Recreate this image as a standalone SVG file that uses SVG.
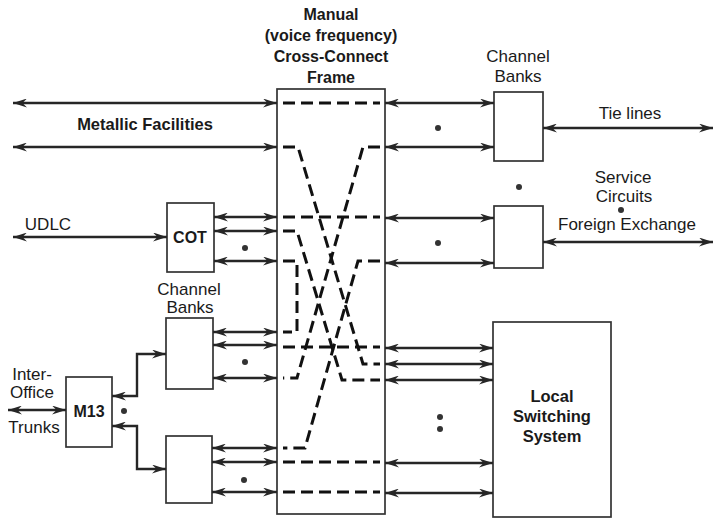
<svg xmlns="http://www.w3.org/2000/svg" width="716" height="519" viewBox="0 0 716 519">
<defs>
<marker id="ah" viewBox="0 0 14 9" refX="14" refY="4.5" markerWidth="14" markerHeight="9" markerUnits="userSpaceOnUse" orient="auto-start-reverse">
<path d="M0,0 L14,4.5 L0,9 L4.5,4.5 Z" fill="#262626"/>
</marker>
<style>
.box{fill:#fff;stroke:#333;stroke-width:1.7}
.arr{fill:none;stroke:#262626;stroke-width:2.4;marker-start:url(#ah);marker-end:url(#ah)}
.dsh{fill:none;stroke:#111;stroke-width:3;stroke-dasharray:12 6}
.t{font-family:"Liberation Sans",Arial,sans-serif;fill:#1a1a1a;text-anchor:middle;font-size:17px}
.b{font-weight:bold;font-size:16px}
.dot{fill:#333}
</style>
</defs>
<rect width="716" height="519" fill="#fff"/>

<g id="frame">
<rect class="box" x="277" y="89" width="108" height="425"/>
<text class="t b" x="331" y="20">Manual</text>
<text class="t b" x="331" y="41">(voice frequency)</text>
<text class="t b" x="331" y="62">Cross-Connect</text>
<text class="t b" x="331" y="83">Frame</text>
</g>

<g id="cb-right-1">
<rect class="box" x="494" y="92" width="49" height="69"/>
<text class="t" x="518" y="62">Channel</text>
<text class="t" x="518" y="82">Banks</text>
</g>
<g id="cb-right-2">
<rect class="box" x="494" y="206" width="49" height="62"/>
</g>
<g id="lss">
<rect class="box" x="493" y="322" width="118" height="195"/>
<text class="t b" x="552" y="402" style="font-size:16.5px">Local</text>
<text class="t b" x="552" y="422" style="font-size:16.5px">Switching</text>
<text class="t b" x="552" y="442" style="font-size:16.5px">System</text>
</g>
<g id="cot">
<rect class="box" x="167" y="203" width="47" height="69"/>
<text class="t b" x="190" y="243">COT</text>
</g>
<g id="cb-left-1">
<rect class="box" x="166" y="318" width="47" height="71"/>
<text class="t" x="189" y="295">Channel</text>
<text class="t" x="190" y="313">Banks</text>
</g>
<g id="cb-left-2">
<rect class="box" x="166" y="436" width="46" height="67"/>
</g>
<g id="m13">
<rect class="box" x="66" y="377" width="46" height="70"/>
<text class="t b" x="89" y="417">M13</text>
</g>

<g id="labels">
<text class="t b" x="145" y="130" style="font-size:16.5px">Metallic Facilities</text>
<text class="t" x="48" y="230">UDLC</text>
<text class="t" x="32" y="380">Inter-</text>
<text class="t" x="32" y="398">Office</text>
<text class="t" x="34" y="433">Trunks</text>
<text class="t" x="630" y="119">Tie lines</text>
<text class="t" x="623" y="183">Service</text>
<text class="t" x="624" y="202">Circuits</text>
<text class="t" x="627" y="230">Foreign Exchange</text>
</g>

<g id="connectors">
<path class="arr" d="M13,103 H277"/>
<path class="arr" d="M13,147 H277"/>
<path class="arr" d="M385,103 H494"/>
<path class="arr" d="M385,147 H494"/>
<path class="arr" d="M543,128 H713"/>
<path class="arr" d="M385,218 H494"/>
<path class="arr" d="M385,263 H494"/>
<path class="arr" d="M543,242 H713"/>
<path class="arr" d="M13,237 H167"/>
<path class="arr" d="M214,217 H277"/>
<path class="arr" d="M214,231 H277"/>
<path class="arr" d="M214,261 H277"/>
<path class="arr" d="M213,332 H277"/>
<path class="arr" d="M213,345 H277"/>
<path class="arr" d="M213,378 H277"/>
<path class="arr" d="M212,448 H277"/>
<path class="arr" d="M212,462 H277"/>
<path class="arr" d="M212,492 H277"/>
<path class="arr" d="M385,348 H493"/>
<path class="arr" d="M385,364 H493"/>
<path class="arr" d="M385,380 H493"/>
<path class="arr" d="M385,463 H493"/>
<path class="arr" d="M385,493 H493"/>
<path class="arr" d="M8,410 H66"/>
<path class="arr" d="M112,396 H137 V354 H166"/>
<path class="arr" d="M112,426 H137 V469 H166"/>

<path class="dsh" d="M283,103 H380"/>
<path class="dsh" d="M283,147 H298 L363,364 H380"/>
<path class="dsh" d="M380,147 H363 L297,378 H283"/>
<path class="dsh" d="M283,217 H380"/>
<path class="dsh" d="M283,231 H297 L342,380 H380"/>
<path class="dsh" d="M283,261 H297 V332 H283"/>
<path class="dsh" d="M380,261 H358 L305,448 H283"/>
<path class="dsh" d="M283,347 H380"/>
<path class="dsh" d="M283,462 H380"/>
<path class="dsh" d="M283,492 H380"/>
</g>

<g id="dots">
<circle class="dot" cx="438" cy="128" r="3"/>
<circle class="dot" cx="519" cy="187" r="3"/>
<circle class="dot" cx="438" cy="243" r="3"/>
<circle class="dot" cx="621" cy="210" r="3"/>
<circle class="dot" cx="245" cy="248" r="3"/>
<circle class="dot" cx="245" cy="362" r="3"/>
<circle class="dot" cx="124" cy="411" r="3"/>
<circle class="dot" cx="244" cy="480" r="3"/>
<circle class="dot" cx="440" cy="417" r="3"/>
<circle class="dot" cx="440" cy="429" r="3"/>
</g>
</svg>
